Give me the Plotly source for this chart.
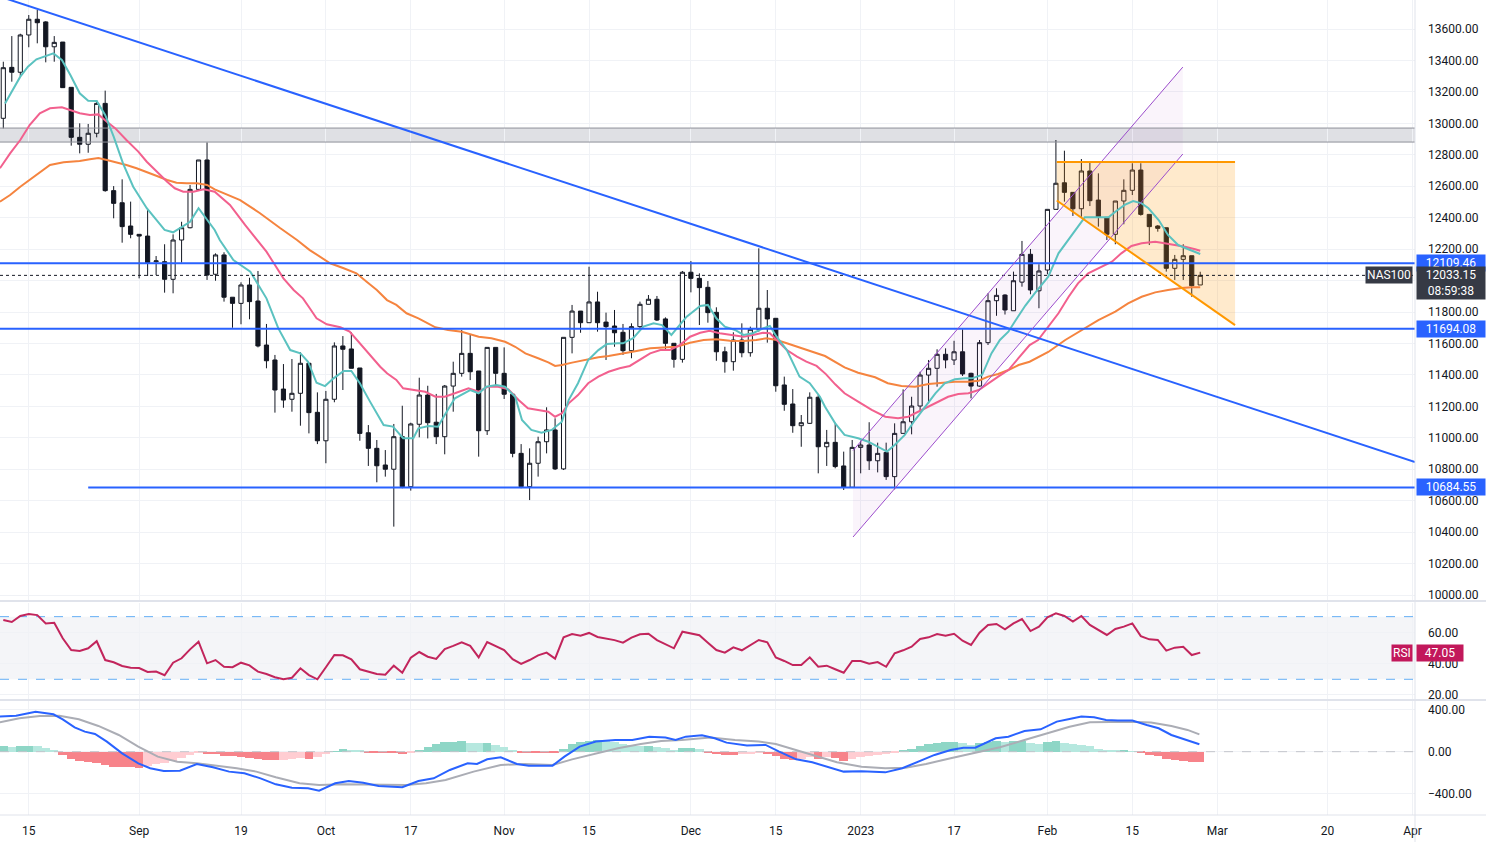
import plotly.graph_objects as go

# ---------------- data ----------------
# candle index: 1..142 (trading bars, 15 Aug 2022 = bar 4)
opens = [13032,13356,13325,13562,13662,13645,13487,13517,13229,12911,12867,12937,13127,12572,12495,12347,12294,12283,12120,12120,
         12008,12258,12336,12580,12767,12040,12163,11894,11855,11972,11870,11590,11495,11310,11245,11283,11474,11162,10981,11245,
         11584,11565,11444,11032,10933,10827,10800,11007,10689,11086,11272,11099,11007,11329,11410,11537,11425,11045,11575,11410,
         11277,10901,10689,10838,10975,11050,10802,11639,11806,11732,11864,11736,11711,11671,11554,11707,11849,11881,11756,11601,
         11499,12053,12014,11957,11798,11547,11484,11622,11541,11690,11824,11760,11336,11215,11077,11092,11258,10943,10971,10821,
         10685,10939,10954,10854,10907,10753,11028,11102,11202,11399,11442,11531,11495,11547,11410,11329,11605,11872,11908,11808,
         11990,12167,11935,12067,12453,12622,12561,12457,12697,12512,12402,12294,12506,12574,12703,12421,12347,12336,12078,12135,
         12158,11972]
highs = [13392,13555,13570,13689,13721,13650,13555,13517,13229,13000,12996,13148,13208,12601,12644,12502,12294,12449,12156,12231,
         12294,12374,12608,12767,12879,12173,12180,11894,11989,12018,12061,11724,11527,11469,11501,11544,11474,11289,11298,11607,
         11647,11671,11444,11081,10986,10922,11088,11204,11096,11382,11331,11279,11336,11484,11686,11658,11425,11575,11575,11575,
         11277,10960,10933,11007,11194,11124,11639,11845,11806,12088,11929,11796,11813,11724,11728,11866,11908,11902,11766,11601,
         12061,12124,12046,11997,11830,11579,11671,11728,11707,12205,11940,11760,11389,11310,11145,11289,11272,11050,11096,10912,
         10986,10982,11099,10969,10969,11092,11308,11261,11420,11495,11563,11569,11617,11690,11414,11622,11919,11951,11913,12057,
         12252,12201,12104,12453,12894,12826,12561,12773,12760,12682,12402,12506,12644,12746,12746,12421,12353,12336,12163,12231,
         12158,12056]
lows = [12968,13265,13301,13484,13509,13388,13392,13225,12858,12809,12813,12911,12565,12396,12241,12269,12014,12029,12035,11923,
        11919,12114,12332,12576,12004,11999,11866,11700,11722,11754,11575,11442,11160,11191,11166,11077,11028,10960,10838,11226,
        11304,11442,10981,10821,10717,10753,10435,10679,10664,11003,10996,10960,10895,11166,11389,11367,10880,11018,11325,11247,
        10876,10679,10604,10753,10901,10795,10795,11537,11668,11732,11675,11495,11579,11527,11506,11690,11849,11743,11558,11446,
        11478,11925,11717,11732,11490,11414,11427,11512,11516,11675,11605,11293,11172,11032,10943,11088,10774,10821,10806,10668,
        10685,10774,10795,10780,10732,10672,11028,11022,11166,11219,11325,11442,11463,11393,11251,11325,11590,11776,11784,11808,
        11961,11913,11824,12040,12453,12502,12411,12406,12474,12343,12258,12231,12358,12544,12413,12226,12311,12057,12004,12004,
        11897,11972]
closes = [13354,13325,13562,13662,13640,13487,13515,13227,12911,12867,12937,13127,12572,12491,12343,12294,12283,12114,12125,12008,
          12258,12336,12580,12767,12035,12163,11894,11855,11972,11866,11584,11490,11304,11240,11283,11474,11160,10981,11245,11584,
          11563,11442,11028,10933,10822,10800,11007,10689,11088,11272,11096,11007,11329,11410,11537,11420,11045,11575,11410,11277,
          10901,10689,10838,10975,11050,10802,11639,11806,11732,11864,11732,11707,11668,11554,11707,11849,11881,11749,11601,11499,
          12053,12014,11955,11796,11547,11484,11622,11541,11690,11824,11756,11331,11213,11077,11096,11258,10943,10971,10817,10685,
          10939,10954,10854,10901,10753,11028,11102,11202,11399,11442,11531,11495,11547,11406,11329,11605,11872,11906,11813,11999,
          12167,11940,12061,12453,12619,12561,12457,12697,12508,12402,12294,12506,12574,12703,12421,12343,12332,12078,12135,12158,
          11967,12033.15]
bars = list(range(1, len(closes) + 1))

# moving averages (bar position, value)
ma_fast_x = [1.2,3.0,3.9,4.9,6.9,7.9,8.9,10.0,11.0,12.0,13.0,14.0,15.1,16.3,17.9,19.1,20.0,21.0,22.0,23.0,24.0,25.0,25.9,26.5,28.1,30.1,
             32.0,33.4,34.8,36.0,36.9,37.9,38.9,39.9,41.1,42.0,43.0,44.2,45.8,46.9,48.1,49.3,49.9,51.1,52.2,53.0,54.2,56.0,57.0,57.9,59.1,
             60.1,61.3,62.1,63.2,64.4,65.6,66.8,67.6,68.7,69.9,71.1,72.1,73.4,74.0,75.2,76.4,77.6,78.6,79.7,80.5,81.5,83.1,84.0,85.0,86.0,
             87.2,88.2,89.3,90.5,91.3,92.1,93.3,94.8,96.0,97.2,97.8,99.0,100.1,101.7,102.9,104.1,105.1,106.0,107.2,108.4,109.6,110.8,
             111.9,113.1,114.3,115.1,116.3,117.4,118.4,119.4,120.2,121.4,122.5,124.1,125.3,126.5,127.6,128.4,130.0,131.2,132.0,133.1,
             134.1,135.1,135.9,137.1,138.2,139.4,140.6,142.0]
ma_fast_v = [13127,13297,13360,13407,13445,13403,13307,13191,13144,13142,13053,12915,12746,12597,12460,12385,12322,12307,12343,12374,
             12460,12385,12322,12258,12131,12056,11887,11696,11558,11537,11484,11350,11329,11378,11425,11425,11347,11230,11081,11071,
             10997,10997,11060,11075,11071,11145,11251,11304,11283,11325,11336,11325,11261,11113,11050,11032,11050,11102,11240,11347,
             11495,11558,11596,11601,11601,11633,11707,11728,11717,11654,11707,11770,11838,11845,11760,11707,11686,11654,11665,11696,
             11711,11643,11558,11389,11347,11261,11198,11092,11018,10997,10975,10943,10912,10954,11018,11113,11198,11283,11347,11372,
             11378,11378,11399,11537,11622,11675,11743,11841,11919,12025,12173,12258,12343,12402,12402,12402,12438,12481,12506,12491,
             12460,12385,12290,12226,12199,12169]
ma_mid_x = [0.6,1.8,3.0,4.1,5.3,6.5,7.9,8.9,10.0,11.2,12.2,13.2,14.2,15.5,16.9,17.9,19.1,20.3,21.2,22.2,23.4,24.6,25.9,27.7,29.5,30.9,
            32.0,33.0,34.0,35.2,36.3,37.1,37.9,39.1,40.7,41.8,43.0,44.2,45.4,46.2,47.3,48.1,49.5,50.7,51.9,53.0,54.2,55.8,57.0,58.1,
            59.3,60.5,61.7,62.8,64.0,65.2,66.0,66.8,67.6,68.7,69.9,71.1,72.3,73.6,74.8,76.0,77.2,78.4,79.5,80.7,81.9,83.1,84.2,85.4,
            86.6,88.2,89.3,90.5,91.3,92.1,93.3,94.5,95.6,96.8,97.9,99.0,100.1,101.7,103.3,104.9,106.4,107.6,108.8,110.0,111.1,112.3,
            113.5,114.7,115.9,117.0,118.2,119.4,120.6,121.9,122.9,124.1,125.3,126.5,127.6,128.8,130.4,131.6,132.7,133.9,135.1,136.7,
            137.8,139.0,140.2,141.4,142.0]
ma_mid_v = [12714,12809,12894,12989,13064,13096,13102,13085,13064,13053,13057,13010,12968,12894,12820,12756,12692,12629,12587,12565,
            12565,12580,12565,12481,12353,12258,12184,12099,12014,11940,11887,11824,11760,11722,11703,11675,11601,11527,11452,11410,
            11368,11315,11304,11293,11261,11261,11283,11315,11293,11325,11325,11308,11240,11188,11177,11166,11134,11156,11219,11272,
            11347,11389,11420,11442,11457,11495,11537,11558,11558,11590,11643,11668,11681,11665,11654,11643,11654,11668,11665,11622,
            11558,11516,11484,11457,11405,11340,11283,11230,11177,11134,11124,11134,11166,11198,11230,11261,11278,11283,11304,11347,
            11389,11431,11506,11590,11622,11707,11792,11897,11982,12046,12088,12120,12173,12220,12237,12247,12237,12226,12215,12199,
            12190]
ma_slow_x = [0.6,1.8,3.0,4.1,5.3,6.5,8.1,10.0,11.2,12.2,13.2,14.4,15.5,16.7,17.9,19.1,20.3,21.4,22.6,23.8,25.0,25.9,28.9,31.2,33.6,
             35.6,37.1,38.3,39.5,41.1,42.6,43.8,45.0,46.2,47.3,48.5,49.9,51.9,53.4,55.0,57.0,58.5,60.1,61.3,62.5,64.0,65.2,66.0,66.8,
             68.0,69.5,71.1,72.3,73.6,75.6,77.2,78.7,80.3,81.9,83.5,85.0,86.6,88.2,89.7,90.9,92.1,93.3,94.8,96.4,97.8,100.1,101.7,103.7,
             105.2,106.8,108.4,110.0,111.5,113.1,114.7,115.9,117.0,118.2,119.4,120.6,121.9,124.1,126.1,128.0,130.0,132.0,133.5,135.1,
             136.7,138.2,139.8,141.0,142.0]
ma_slow_v = [12502,12544,12597,12640,12692,12735,12752,12760,12771,12780,12767,12752,12735,12714,12692,12665,12640,12622,12619,12619,
             12608,12580,12512,12430,12334,12258,12194,12152,12110,12078,12046,11993,11940,11876,11845,11792,11760,11703,11686,11675,
             11643,11633,11611,11579,11537,11506,11480,11457,11463,11478,11495,11512,11520,11531,11552,11569,11575,11579,11605,11622,
             11626,11618,11616,11622,11633,11622,11601,11575,11547,11520,11448,11414,11385,11347,11329,11325,11342,11350,11357,11357,
             11363,11389,11406,11431,11463,11484,11546,11622,11686,11749,11802,11855,11897,11925,11940,11953,11957,11957]

# RSI per bar
rsi = [67.8,66.6,70.4,71.7,71.0,65.7,66.1,56.2,48.7,48.1,49.8,54.3,42.3,40.9,38.5,37.4,37.2,34.7,34.9,32.6,
       40.6,43.4,49.1,54.0,40.2,42.3,38.0,37.7,40.6,38.9,34.9,33.4,31.3,30.0,31.0,37.0,32.7,30.0,37.7,45.5,
       45.3,42.8,36.4,34.9,33.4,32.9,38.7,34.2,43.8,47.4,44.4,43.0,49.3,51.3,53.6,51.3,44.0,53.8,51.4,48.7,
       42.8,39.8,42.3,45.3,47.0,43.2,56.8,58.9,57.8,59.6,57.0,56.0,55.0,53.4,56.6,58.7,59.1,55.0,52.5,49.8,
       60.4,59.4,58.1,53.4,48.7,47.0,50.4,48.5,51.7,55.1,53.6,44.0,41.7,39.1,39.1,44.0,38.0,38.7,36.4,34.2,
       41.7,41.7,40.0,41.0,38.0,46.6,48.5,50.8,55.7,56.8,58.9,57.8,59.1,54.6,51.9,59.7,64.7,65.3,61.9,65.7,
       68.5,60.8,63.6,69.6,72.1,70.4,66.8,70.4,64.7,61.5,58.3,62.1,63.6,65.7,57.6,55.5,55.1,48.3,50.2,50.8,
       45.5,47.05]

# MACD line / signal (bar position, value) and histogram per bar
macd_x = [0.6,2.5,4.8,6.9,8.0,9.4,10.6,11.8,13.2,15.0,16.9,18.3,19.9,21.8,23.8,25.7,27.6,29.4,31.3,33.1,35.0,36.9,38.2,40.1,41.7,
          43.4,45.2,47.1,48.0,49.9,51.7,53.6,55.7,56.8,58.0,59.6,61.5,62.9,65.7,67.1,68.9,70.8,73.1,75.1,77.1,79.0,80.2,81.4,83.3,
          84.8,86.2,88.6,90.8,92.4,94.4,96.3,98.2,100.0,102.1,104.9,106.9,108.8,110.7,112.6,114.1,115.5,117.9,119.4,121.3,123.2,
          125.1,126.6,128.0,129.5,130.9,132.3,134.0,135.7,137.1,138.6,140.5,141.9]
macd_v = [334,343,381,356,308,232,191,169,96,-16,-111,-158,-184,-181,-117,-149,-190,-206,-254,-311,-343,-349,-371,-301,-279,
          -295,-327,-333,-339,-279,-254,-174,-111,-117,-73,-54,-117,-133,-133,-47,48,96,111,111,143,134,111,143,156,
          127,86,58,64,0,-73,-101,-143,-190,-187,-197,-158,-95,-31,16,38,38,127,143,197,213,
          286,311,334,327,302,296,296,254,223,159,111,70]
signal_x = [0.6,2.9,5.3,7.6,9.9,12.2,14.6,16.9,19.2,21.5,23.8,26.2,28.5,30.8,33.1,35.9,38.2,41.0,43.8,46.2,48.5,50.8,53.1,56.4,
            59.6,62.4,65.7,68.0,70.8,73.4,76.1,78.5,80.9,84.3,87.2,90.0,92.0,94.4,96.8,99.2,102.1,104.9,107.3,109.7,112.6,115.5,
            118.4,121.3,124.2,126.6,129.0,131.4,133.8,136.2,138.6,140.5,141.9]
signal_v = [280,318,340,343,308,245,159,48,-47,-95,-111,-133,-158,-190,-244,-301,-317,-311,-311,-317,-317,-301,-270,-190,
            -127,-117,-127,-73,-16,32,73,102,111,134,111,96,73,16,-47,-101,-143,-158,-152,-117,-63,-9,
            42,111,181,238,280,286,286,277,245,207,165]
macd_hist = [50,45,50,55,50,35,15,-30,-65,-90,-100,-110,-130,-145,-150,-150,-155,-140,-120,-105,
             -85,-60,-30,-10,-20,-25,-40,-45,-50,-60,-70,-80,-80,-75,-65,-60,-65,-55,-20,5,
             25,20,10,-10,-15,-15,-15,-20,-10,20,45,70,90,95,100,85,80,80,65,45,
             15,-5,-10,-10,-10,-10,30,75,95,105,110,100,90,75,60,50,55,40,35,20,
             35,35,25,-5,-25,-30,-30,-25,-20,-15,-20,-45,-65,-75,-65,-55,-70,-55,-60,-85,
             -65,-50,-45,-35,-25,-10,10,30,55,70,85,90,95,85,65,80,95,100,95,100,
             100,85,70,90,100,85,70,65,50,30,15,10,10,5,-15,-30,-45,-70,-80,-90,
             -95,-95]

# drawings
level_values = [12109.46, 11694.08, 10684.55]
level_starts = [0.61, 0.61, 11.0]
trend_x = [0.61, 167.3]
trend_y = [13806, 10846]
zone_low, zone_high = 12881, 12970
chan_x = [101.1, 139.95]
chan_lower = [10369, 12805]
chan_upper = [10919, 13358]
flag_x = [125.1, 146.1]
flag_top = 12754
flag_bottom = [12509, 11717]
last_price = 12033.15
countdown = "08:59:38"
symbol = "NAS100"

tick_bars = [4, 17, 29, 39, 49, 60, 70, 82, 92, 102, 113, 124, 134, 144, 157, 167]
tick_text = ['15', 'Sep', '19', 'Oct', '17', 'Nov', '15', 'Dec', '15', '2023', '17', 'Feb', '15', 'Mar', '20', 'Apr']
price_ticks = list(range(10000, 13801, 200))
hidden_price_tick = 12000          # covered by the last-price tag in the reference
rsi_ticks = [20, 40, 60]
macd_ticks = [-400, 0, 400]

# ---------------- styling ----------------
X_MIN, X_MAX = 0.61, 167.3
INK = '#131722'
GRID = '#F0F2F6'
BLUE = '#2962FF'
FONT = 'Roboto, Liberation Sans, sans-serif'

fig = go.Figure()

# price pane: fills (below series)
fig.add_shape(type='rect', xref='x', yref='y', x0=X_MIN, x1=X_MAX, y0=zone_low, y1=zone_high,
              fillcolor='#DFE0E4', line_width=0, layer='below')
fig.add_trace(go.Scatter(x=[chan_x[0], chan_x[1], chan_x[1], chan_x[0], chan_x[0]],
                         y=[chan_lower[0], chan_lower[1], chan_upper[1], chan_upper[0], chan_lower[0]],
                         fill='toself', fillcolor='rgba(156,39,176,0.05)', line=dict(width=0),
                         mode='lines', hoverinfo='skip', xaxis='x', yaxis='y'))
fig.add_trace(go.Scatter(x=[flag_x[0], flag_x[1], flag_x[1], flag_x[0], flag_x[0]],
                         y=[flag_top, flag_top, flag_bottom[1], flag_bottom[0], flag_top],
                         fill='toself', fillcolor='rgba(255,152,0,0.2)', line=dict(width=0),
                         mode='lines', hoverinfo='skip', xaxis='x', yaxis='y'))
for zv in (zone_low, zone_high):
    fig.add_trace(go.Scatter(x=[X_MIN, X_MAX], y=[zv, zv], mode='lines',
                             line=dict(color='#8E9199', width=1), hoverinfo='skip', xaxis='x', yaxis='y'))

# moving averages
fig.add_trace(go.Scatter(x=ma_slow_x, y=ma_slow_v, mode='lines', line=dict(color='#F5843F', width=2), xaxis='x', yaxis='y'))
fig.add_trace(go.Scatter(x=ma_mid_x, y=ma_mid_v, mode='lines', line=dict(color='#F2608E', width=2), xaxis='x', yaxis='y'))
fig.add_trace(go.Scatter(x=ma_fast_x, y=ma_fast_v, mode='lines', line=dict(color='#5BC2C0', width=2), xaxis='x', yaxis='y'))

# candles
fig.add_trace(go.Candlestick(x=bars, open=opens, high=highs, low=lows, close=closes,
                             increasing=dict(line=dict(color=INK, width=1), fillcolor='#FFFFFF'),
                             decreasing=dict(line=dict(color=INK, width=1), fillcolor=INK),
                             whiskerwidth=0, xaxis='x', yaxis='y', hoverinfo='skip'))

# drawings on top
fig.add_trace(go.Scatter(x=[X_MIN, X_MAX], y=[last_price, last_price], mode='lines',
                         line=dict(color=INK, width=1, dash='dot'), xaxis='x', yaxis='y'))
for lv, ls in zip(level_values, level_starts):
    fig.add_trace(go.Scatter(x=[ls, X_MAX], y=[lv, lv], mode='lines', line=dict(color=BLUE, width=2),
                             xaxis='x', yaxis='y'))
fig.add_trace(go.Scatter(x=trend_x, y=trend_y, mode='lines', line=dict(color=BLUE, width=2), xaxis='x', yaxis='y'))
fig.add_trace(go.Scatter(x=chan_x, y=chan_lower, mode='lines', line=dict(color='#9C4DCC', width=1), xaxis='x', yaxis='y'))
fig.add_trace(go.Scatter(x=chan_x, y=chan_upper, mode='lines', line=dict(color='#9C4DCC', width=1), xaxis='x', yaxis='y'))
fig.add_trace(go.Scatter(x=flag_x, y=[flag_top, flag_top], mode='lines', line=dict(color='#FF9800', width=2), xaxis='x', yaxis='y'))
fig.add_trace(go.Scatter(x=flag_x, y=flag_bottom, mode='lines', line=dict(color='#FF9800', width=2), xaxis='x', yaxis='y'))

# RSI pane
fig.add_shape(type='rect', xref='x2', yref='y2', x0=X_MIN, x1=X_MAX, y0=30, y1=70,
              fillcolor='#F4F5F8', line_width=0, layer='below')
for lv in (70, 30):
    fig.add_trace(go.Scatter(x=[X_MIN, X_MAX], y=[lv, lv], mode='lines',
                             line=dict(color='#64AEF5', width=1, dash='dash'), xaxis='x2', yaxis='y2'))
fig.add_trace(go.Scatter(x=bars, y=rsi, mode='lines', line=dict(color='#C2255C', width=2), xaxis='x2', yaxis='y2'))

# MACD pane
hist_colors = []
for i, hv in enumerate(macd_hist):
    prev = macd_hist[i - 1] if i > 0 else hv
    if hv >= 0:
        hist_colors.append('#8ED6C6' if hv >= prev else '#B6E8DF')
    else:
        hist_colors.append('#F7838A' if hv <= prev else '#FFCDD2')
fig.add_trace(go.Bar(x=bars, y=macd_hist, marker=dict(color=hist_colors, line=dict(width=0)), width=1.0,
                     xaxis='x3', yaxis='y3'))
fig.add_trace(go.Scatter(x=[X_MIN, X_MAX], y=[0, 0], mode='lines',
                         line=dict(color='#C3C5CC', width=1, dash='dash'), xaxis='x3', yaxis='y3'))
fig.add_trace(go.Scatter(x=signal_x, y=signal_v, mode='lines', line=dict(color='#ABADB5', width=2), xaxis='x3', yaxis='y3'))
fig.add_trace(go.Scatter(x=macd_x, y=macd_v, mode='lines', line=dict(color=BLUE, width=2), xaxis='x3', yaxis='y3'))

# pane separators / borders
for yy in (0.2626, 0.1411):
    fig.add_shape(type='line', xref='paper', yref='paper', x0=0, x1=1.0502, y0=yy, y1=yy,
                  line=dict(color='#E0E3EB', width=2))
fig.add_shape(type='line', xref='paper', yref='paper', x0=0, x1=1.0502, y0=0, y1=0, line=dict(color='#E0E3EB', width=1))
fig.add_shape(type='line', xref='paper', yref='paper', x0=1, x1=1, y0=-0.04, y1=1, line=dict(color='#E0E3EB', width=1))

# axis labels (price scale tags)
def tag(y, text, bg, yref='y', width=66, yshift=0, yanchor='middle'):
    fig.add_annotation(xref='paper', yref=yref, x=1, y=y, xanchor='left', xshift=1, yshift=yshift, yanchor=yanchor,
                       text=text, showarrow=False, bgcolor=bg, width=width, align='center',
                       font=dict(color='white', size=12, family=FONT), borderpad=1)

for lv in level_values:
    tag(lv, f'{lv:.2f}', BLUE)
tag(last_price, f'{last_price:.2f}<br>{countdown}', '#363A45', yshift=9, yanchor='top')
fig.add_annotation(xref='paper', yref='y', x=1, y=last_price, xanchor='right', xshift=-2, yanchor='middle',
                   text=symbol, showarrow=False, bgcolor='#363A45', font=dict(color='white', size=12, family=FONT),
                   borderpad=1)
fig.add_annotation(xref='paper', yref='y2', x=1, y=rsi[-1], xanchor='left', xshift=1, yanchor='middle',
                   text=f'{rsi[-1]:.2f}', showarrow=False, bgcolor='#C2185B', width=44,
                   font=dict(color='white', size=12, family=FONT), borderpad=1)
fig.add_annotation(xref='paper', yref='y2', x=1, y=rsi[-1], xanchor='right', xshift=-2, yanchor='middle',
                   text='RSI', showarrow=False, bgcolor='#C2185B',
                   font=dict(color='white', size=12, family=FONT), borderpad=1)

price_tick_text = ['' if v == hidden_price_tick else f'{v:.2f}' for v in price_ticks]

axis_common = dict(showline=False, zeroline=False, ticks='', gridcolor=GRID, gridwidth=1)
fig.update_layout(
    width=1486, height=842, margin=dict(l=0, r=71, t=0, b=27),
    paper_bgcolor='white', plot_bgcolor='white', showlegend=False,
    font=dict(family=FONT, size=12, color=INK), bargap=0,
    xaxis=dict(anchor='y', domain=[0, 1], range=[X_MIN, X_MAX], tickvals=tick_bars, showticklabels=False,
               rangeslider=dict(visible=False), **axis_common),
    xaxis2=dict(anchor='y2', domain=[0, 1], matches='x', tickvals=tick_bars, showticklabels=False, **axis_common),
    xaxis3=dict(anchor='y3', domain=[0, 1], matches='x', tickvals=tick_bars, ticktext=tick_text,
                showticklabels=True, ticklabelstandoff=7, **axis_common),
    yaxis=dict(domain=[0.2638, 1], range=[9968.3, 13784.5], side='right', tickvals=price_ticks,
               ticktext=price_tick_text, ticklabelstandoff=12, **axis_common),
    yaxis2=dict(domain=[0.1423, 0.2601], range=[17.4, 78.7], side='right', tickvals=rsi_ticks,
                tickformat='.2f', ticklabelstandoff=12, **axis_common),
    yaxis3=dict(domain=[0, 0.1411], range=[-603, 492], side='right', tickvals=macd_ticks,
                tickformat='.2f', ticklabelstandoff=12, **axis_common),
)

fig.write_html('out.html')
